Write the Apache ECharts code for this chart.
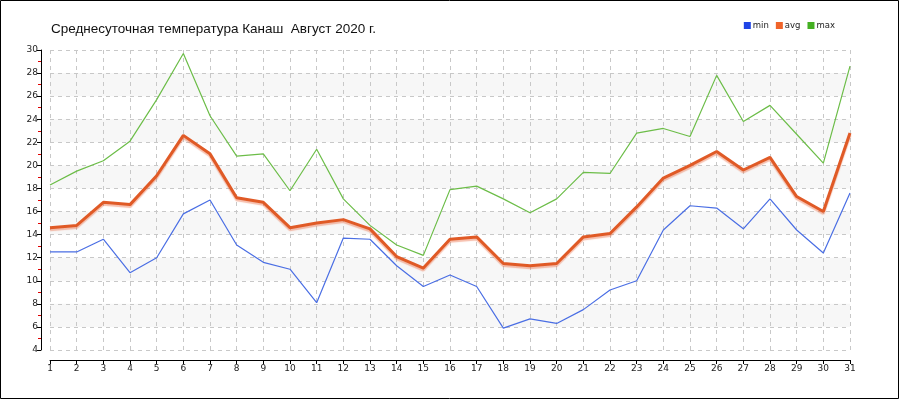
<!DOCTYPE html>
<html>
<head>
<meta charset="utf-8">
<script src="https://cdn.jsdelivr.net/npm/echarts@6/dist/echarts.min.js"></script>
<style>
html,body{margin:0;padding:0;background:#fff;}
#chart{width:900px;height:400px;}
</style>
</head>
<body>
<div id="chart"></div>
<script>
var days = ['1','2','3','4','5','6','7','8','9','10','11','12','13','14','15','16','17','18','19','20','21','22','23','24','25','26','27','28','29','30','31'];
var minVals = [12.5,12.5,13.6,10.7,12.0,15.8,17.0,13.1,11.6,11.0,8.1,13.7,13.6,11.3,9.5,10.5,9.5,5.9,6.7,6.3,7.5,9.2,10.0,14.4,16.5,16.3,14.5,17.1,14.4,12.4,17.6];
var avgVals = [14.6,14.8,16.8,16.6,19.1,22.6,21.0,17.2,16.8,14.6,15.0,15.3,14.5,12.1,11.1,13.6,13.8,11.5,11.3,11.5,13.8,14.1,16.4,18.9,20.0,21.2,19.6,20.7,17.3,16.0,22.8];
var maxVals = [18.3,19.5,20.4,22.1,25.7,29.7,24.3,20.8,21.0,17.8,21.4,17.1,14.8,13.1,12.2,17.9,18.2,17.1,15.9,17.1,19.4,19.3,22.8,23.2,22.5,27.8,23.8,25.2,22.7,20.2,28.6];
var seriesNames = ['min','avg','max'];
var titleText = 'Среднесуточная температура Канаш  Август 2020 г.';

var chart = echarts.init(document.getElementById('chart'), null, {renderer:'canvas'});
var font = 'DejaVu Sans';
chart.setOption({
  animation: false,
  backgroundColor: '#fff',
  title: {
    text: titleText,
    left: 46, top: 17,
    textStyle: {fontFamily: 'Liberation Sans', fontSize: 13.5, fontWeight: 'normal', color: '#111'}
  },
  legend: {
    right: 60, top: 16,
    itemWidth: 7, itemHeight: 7, itemGap: 7,
    icon: 'rect',
    textStyle: {fontFamily: font, fontSize: 8.5, color: '#222', padding: [0,0,0,-3]},
    data: [
      {name: seriesNames[0], itemStyle: {color: '#1f44e6'}},
      {name: seriesNames[1], itemStyle: {color: '#f0642a'}},
      {name: seriesNames[2], itemStyle: {color: '#44b022'}}
    ]
  },
  graphic: [{
    type: 'rect', silent: true, z: 100,
    shape: {x: 0.5, y: 0.5, width: 898, height: 398},
    style: {fill: 'none', stroke: '#000', lineWidth: 1}
  }],
  grid: {left: 50, right: 50, top: 50, bottom: 50, containLabel: false},
  xAxis: {
    type: 'category', data: days, boundaryGap: false, offset: 10,
    axisLine: {lineStyle: {color: '#000', width: 1}},
    axisTick: {show: true, length: 4, alignWithLabel: true, lineStyle: {color: '#000'}},
    axisLabel: {fontFamily: font, fontSize: 9, color: '#222', margin: 4, interval: 0},
    splitLine: {show: true, lineStyle: {color: '#c8c8c8', type: [4,4], width: 1}}
  },
  yAxis: {
    type: 'value', min: 4, max: 30, interval: 2, offset: 9,
    axisLine: {show: true, lineStyle: {color: '#000', width: 1}},
    axisTick: {show: true, length: 4, lineStyle: {color: '#000'}},
    minorTick: {show: true, splitNumber: 2, length: 3, lineStyle: {color: '#e00000'}},
    axisLabel: {fontFamily: font, fontSize: 9, color: '#222', margin: 3},
    splitLine: {show: true, lineStyle: {color: '#c8c8c8', type: [4,4], width: 1}},
    splitArea: {show: true, areaStyle: {color: ['rgba(255,255,255,0)', '#f7f7f7']}}
  },
  series: [
    {name: seriesNames[0], type: 'line', data: minVals, symbol: 'none', z: 3,
     lineStyle: {color: '#4a6ee4', width: 1.2}, itemStyle: {color: '#1f44e6'}},
    {name: seriesNames[1], type: 'line', data: avgVals, symbol: 'none', z: 4,
     lineStyle: {color: '#e05a26', width: 3, shadowColor: 'rgba(235,110,70,0.45)', shadowBlur: 1, shadowOffsetY: 2}, itemStyle: {color: '#f0642a'}},
    {name: seriesNames[2], type: 'line', data: maxVals, symbol: 'none', z: 3,
     lineStyle: {color: '#6cbd48', width: 1.2}, itemStyle: {color: '#44b022'}}
  ]
});
</script>
</body>
</html>
